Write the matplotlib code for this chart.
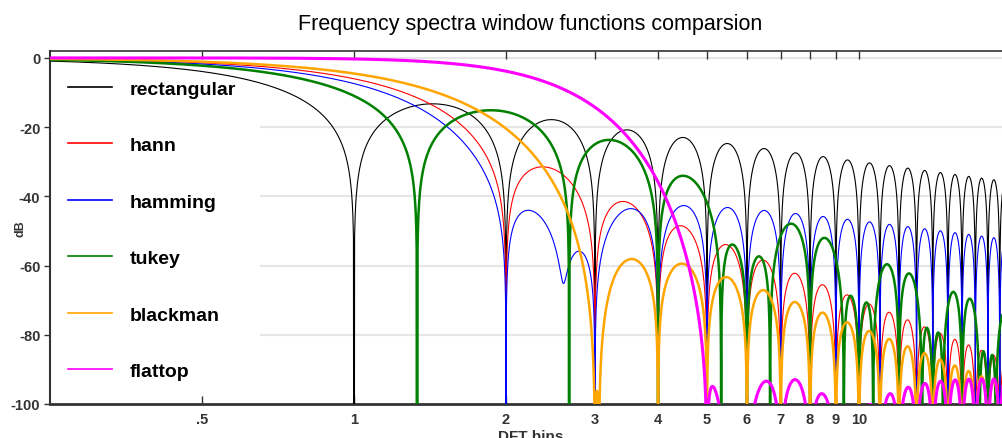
import numpy as np
from matplotlib import pyplot as plt

# window setup
N = 256          # window length
PAD = 384        # zero padding factor -> PAD points per DFT bin (multiple of 3 for the tukey nulls)
TUKEY_ALPHA = 0.5
FLATTOP_COEFS = [0.21557895, 0.41663158, 0.277263158, 0.083578947, 0.006947368]

names = ['rectangular', 'hann', 'hamming', 'tukey', 'blackman', 'flattop']
colors = ['black', 'red', 'blue', 'green', 'orange', 'magenta']
widths = [0.8, 0.8, 0.8, 1.8, 1.8, 2.2]

xticks = [0.5, 1, 2, 3, 4, 5, 6, 7, 8, 9, 10]
xticklabels = ['.5', '1', '2', '3', '4', '5', '6', '7', '8', '9', '10']
yticks = [0, -20, -40, -60, -80, -100]


def tukey(M, alpha):
    # periodic version: build M+1 symmetric points and drop the last one
    x = np.arange(M + 1) / M
    w = np.ones(M + 1)
    lo = x < alpha / 2
    hi = x > 1 - alpha / 2
    w[lo] = 0.5 * (1 - np.cos(2 * np.pi * x[lo] / alpha))
    w[hi] = 0.5 * (1 - np.cos(2 * np.pi * (1 - x[hi]) / alpha))
    return w[:-1]


n = np.arange(N)
t = 2 * np.pi * n / N
windows = {
    'rectangular': np.ones(N),
    'hann': 0.5 - 0.5 * np.cos(t),
    'hamming': 0.54 - 0.46 * np.cos(t),
    'tukey': tukey(N, TUKEY_ALPHA),
    'blackman': 0.42 - 0.5 * np.cos(t) + 0.08 * np.cos(2 * t),
    'flattop': sum((-1) ** k * a * np.cos(k * t) for k, a in enumerate(FLATTOP_COEFS)),
}

L = N * PAD
bins = np.arange(1, 21 * PAD) / PAD

plt.rcParams['font.family'] = ['Liberation Sans', 'DejaVu Sans']

fig = plt.figure(figsize=(10.02, 4.39), dpi=100)
ax = fig.add_axes([50 / 1002, 34 / 439, 961 / 1002, 353 / 439])

for name, c, lw in zip(names, colors, widths):
    spec = np.abs(np.fft.rfft(windows[name], L))
    db = 20 * np.log10(spec / spec[0] + 1e-14)
    ax.plot(bins, db[1:len(bins) + 1], color=c, lw=lw, label=name, zorder=3)

ax.set_xscale('log')
ax.set_xlim(0.25, 20)
ax.set_ylim(-100, 2)
ax.set_xticks(xticks)
ax.set_xticklabels(xticklabels)
ax.xaxis.set_minor_locator(plt.NullLocator())
ax.set_yticks(yticks)
ax.set_yticklabels([str(v) for v in yticks])

# horizontal guide lines, kept clear of the legend column
ax.hlines(yticks[:-1], 0.65, 20, color='#e6e6e6', lw=1.5, zorder=1)

ax.tick_params(axis='x', direction='in', top=True, length=6, width=1,
               colors='#333333', labelsize=10.5, pad=6)
ax.tick_params(axis='y', direction='out', length=4, width=1,
               colors='#333333', labelsize=10.5, pad=3)
for lab in ax.get_xticklabels() + ax.get_yticklabels():
    lab.set_fontweight('bold')

ax.spines['right'].set_visible(False)
ax.spines['left'].set_linewidth(1.5)
ax.spines['bottom'].set_linewidth(2)
ax.spines['top'].set_linewidth(1.2)
for s in ['left', 'bottom', 'top']:
    ax.spines[s].set_color('#333333')

ax.set_title('Frequency spectra window functions comparsion', fontsize=15.5, pad=16)
ax.set_xlabel('DFT bins', fontsize=11, fontweight='bold', color='#333333', labelpad=2)
ax.set_ylabel('dB', fontsize=9, fontweight='bold', color='#333333')
ax.yaxis.set_label_coords(-0.024, 0.5)

leg = ax.legend(loc='upper left', bbox_to_anchor=(0, 0.967), frameon=False,
                prop={'size': 14, 'weight': 'bold'}, handlelength=2.27,
                handletextpad=0.93, labelspacing=2.0, borderpad=0.3, borderaxespad=0.6)
for line in leg.get_lines():
    line.set_linewidth(1.2)

fig.savefig('out.png', dpi=100)
